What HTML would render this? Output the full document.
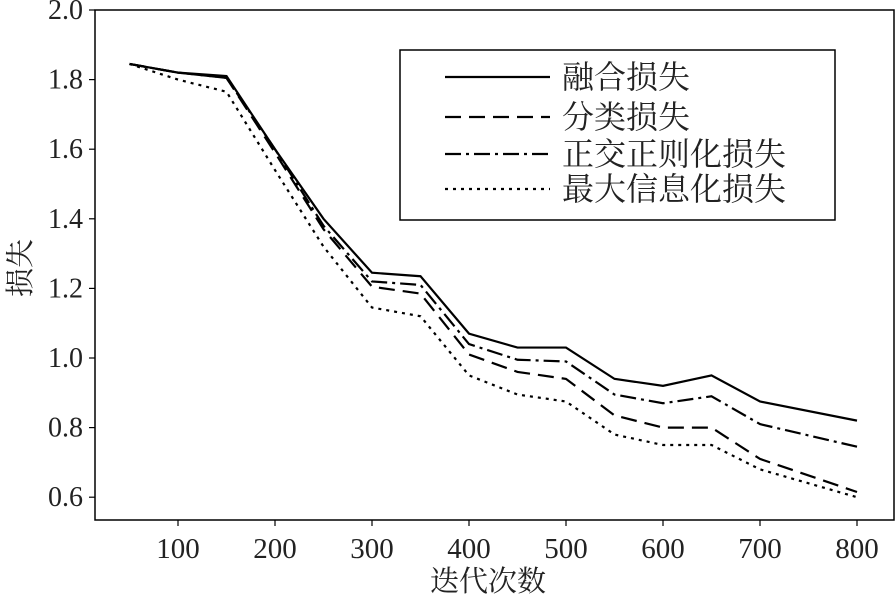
<!DOCTYPE html>
<html><head><meta charset="utf-8">
<style>
body{margin:0;background:#fff;}
svg{display:block;font-family:"Liberation Serif","Noto Serif CJK SC",serif;}
</style></head>
<body>
<svg id="chart" width="896" height="596" xmlns="http://www.w3.org/2000/svg">
<g id="axes"></g>
<g id="series"></g>
<g id="legend"></g>
</svg>
<script>
const iterations=[50,100,150,200,250,300,350,400,450,500,550,600,650,700,800];
const fusionLoss=[1.845,1.82,1.81,1.6,1.40,1.245,1.235,1.07,1.03,1.03,0.94,0.92,0.95,0.875,0.82];
const classLoss=[1.845,1.82,1.805,1.59,1.37,1.205,1.185,1.01,0.96,0.94,0.835,0.80,0.80,0.71,0.615];
const orthoLoss=[1.845,1.82,1.805,1.6,1.38,1.22,1.21,1.04,0.995,0.99,0.895,0.87,0.89,0.81,0.745];
const infoLoss=[1.845,1.80,1.765,1.54,1.32,1.145,1.12,0.95,0.895,0.875,0.78,0.75,0.75,0.68,0.60];
const xTicks=[100,200,300,400,500,600,700,800];
const yTicks=[0.6,0.8,1.0,1.2,1.4,1.6,1.8,2.0];
const seriesNames=["融合损失","分类损失","正交正则化损失","最大信息化损失"];

const NS="http://www.w3.org/2000/svg";
const L=95,R=894,T=10,B=520;
const xs=v=>178+(v-100)*0.97;
const ys=v=>10+(2.0-v)*348;
function mk(tag,attrs,parent,text){const e=document.createElementNS(NS,tag);for(const k in attrs)e.setAttribute(k,attrs[k]);if(text!==undefined)e.textContent=text;parent.appendChild(e);return e;}
const axes=document.getElementById('axes');
const frame=mk('rect',{x:L,y:T,width:R-L,height:B-T,fill:'none',stroke:'#000','stroke-width':1.5},axes);


xTicks.forEach(t=>{
  const tk=mk('line',{x1:xs(t),x2:xs(t),y1:B,y2:B+6,stroke:'#000','stroke-width':1.2},axes);
  
  
  const lb=mk('text',{x:xs(t),y:558,'text-anchor':'middle','font-size':29,fill:'#222'},axes,String(t));
  
  
});
yTicks.forEach(t=>{
  const tk=mk('line',{x1:L-6,x2:L,y1:ys(t),y2:ys(t),stroke:'#000','stroke-width':1.2},axes);
  
  
  const lb=mk('text',{x:83,y:ys(t)+9,'text-anchor':'end','font-size':28,fill:'#222'},axes,t.toFixed(1));
  
  
});
const xt=mk('text',{x:488,y:591,'text-anchor':'middle','font-size':29,fill:'#222'},axes,'迭代次数');


const yt=mk('text',{x:0,y:0,'text-anchor':'middle','font-size':29,fill:'#222',transform:'translate(30,268) rotate(-90)'},axes,'损失');



const dashes=['none','16,8','16,5,3,5','3,5'];
const all=[fusionLoss,classLoss,orthoLoss,infoLoss];
const sNames=['fusion-loss-line','classification-loss-line','orthogonal-loss-line','info-max-loss-line'];
const sg=document.getElementById('series');
all.forEach((arr,i)=>{
  const pts=arr.map((v,j)=>xs(iterations[j])+','+ys(v)).join(' ');
  const pl=mk('polyline',{points:pts,fill:'none',stroke:'#000','stroke-width':2.2,'stroke-dasharray':dashes[i]},sg);
  
  
});
const lg=document.getElementById('legend');
const box=mk('rect',{x:400,y:50,width:435,height:170,fill:'#fff',stroke:'#000','stroke-width':1.5},lg);


const ly=[77,117,154,189];
seriesNames.forEach((n,i)=>{
  const ln=mk('line',{x1:445,x2:550,y1:ly[i],y2:ly[i],stroke:'#000','stroke-width':2.2,'stroke-dasharray':dashes[i]},lg);
  
  
  const tx=mk('text',{x:562,y:ly[i]+11,'font-size':32,fill:'#222'},lg,n);
  
  
});
</script>
</body></html>
